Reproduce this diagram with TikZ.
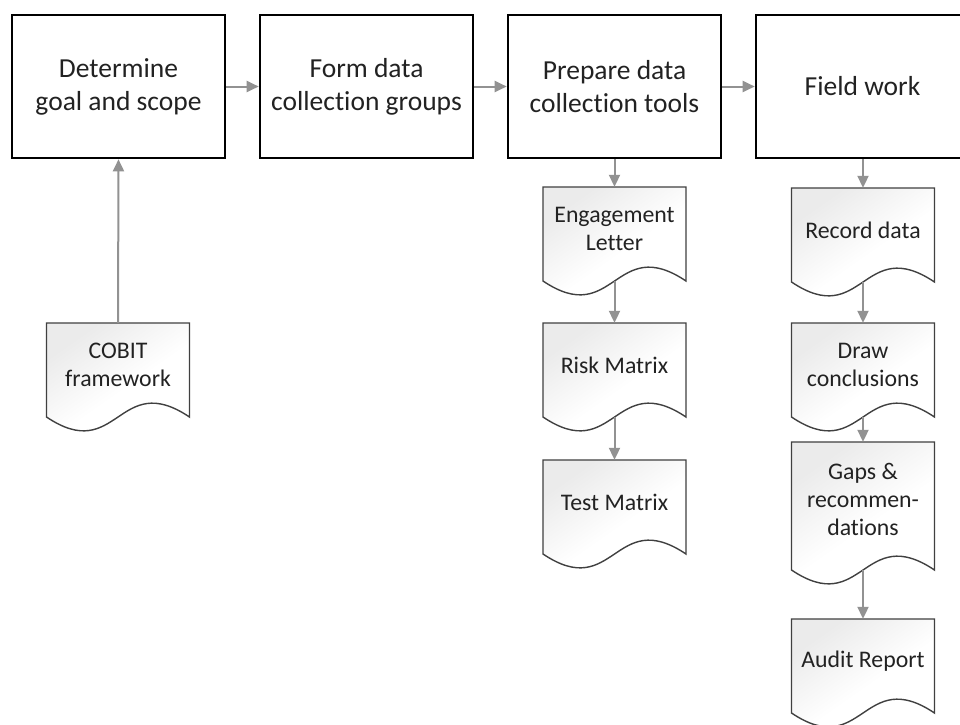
\documentclass[tikz,border=0pt]{standalone}
\usepackage{fontspec}
\setmainfont{Carlito}[Ligatures=NoCommon]
\usetikzlibrary{arrows.meta}
\definecolor{arrowgray}{HTML}{929292}
\definecolor{docline}{HTML}{404040}
\definecolor{txt}{HTML}{222222}
\tikzset{
  procbox/.style={draw=black, line width=2.6pt, fill=white, minimum width=213pt, minimum height=143pt,
    inner sep=0pt, align=center, text=txt, font=\fontsize{27.5}{33}\selectfont},
  docshape/.style={draw=docline, line width=1.4pt, shading=axis, top color=black!8, bottom color=white,
    middle color=white, shading angle=35},
  doctext/.style={draw=none, minimum width=143pt, inner sep=0pt, align=center, text=txt,
    font=\fontsize{23.8}{28}\selectfont},
  flow/.style={draw=arrowgray, line width=2pt, -{Triangle[length=12pt,width=11pt]}}
}
% #1 name, #2 centre x, #3 top y, #4 side height, #5 text
\newcommand\docnode[5]{%
  \path[docshape] (#2-71.5,#3) -- (#2+71.5,#3) -- (#2+71.5,#3+#4)
    .. controls (#2,#3+#4-48) and (#2,#3+#4+48) .. (#2-71.5,#3+#4) -- cycle;
  \node[doctext, minimum height=0.9*#4] (#1) at (#2,#3+0.45*#4) {#5};
  \coordinate (#1b) at (#2,#3+#4);
}
\begin{document}
\begin{tikzpicture}[x=1pt,y=-1pt]
\useasboundingbox (0,0) rectangle (960,724);
\clip (0,0) rectangle (960,724);
\fill[white] (0,0) rectangle (960,724);

\node[procbox] (b1) at (118.5,86.5) {Determine\\goal and scope};
\node[procbox] (b2) at (366.5,86.5) {Form data\\collection groups};
\node[procbox] (b3) at (614.5,86.5) {Prepare data\\collection tools};
\node[procbox] (b4) at (862.5,86.5) {Field work};

\docnode{cobit}{118}{323}{94}{COBIT\\framework}
\docnode{eng}{614.5}{187}{94}{Engagement\\Letter}
\docnode{risk}{614.5}{323}{94}{Risk Matrix}
\docnode{test}{614.5}{460}{94}{Test Matrix}
\docnode{rec}{863}{188}{94}{Record data}
\docnode{concl}{863}{323}{94}{Draw\\conclusions}
\docnode{gaps}{863}{442}{128}{Gaps \&\\recommen-\\dations}
\docnode{audit}{863}{619}{94}{Audit Report}

\draw[flow] (b1.east) -- (b2.west);
\draw[flow] (b2.east) -- (b3.west);
\draw[flow] (b3.east) -- (b4.west);
\draw[flow] (cobit.north) -- (b1.south);
\draw[flow] (b3.south) -- (eng.north);
\draw[flow] (engb) -- (risk.north);
\draw[flow] (riskb) -- (test.north);
\draw[flow] (b4.south -| rec.north) -- (rec.north);
\draw[flow] (recb) -- (concl.north);
\draw[flow] (conclb) -- (gaps.north);
\draw[flow] (gapsb) -- (audit.north);
\end{tikzpicture}
\end{document}
